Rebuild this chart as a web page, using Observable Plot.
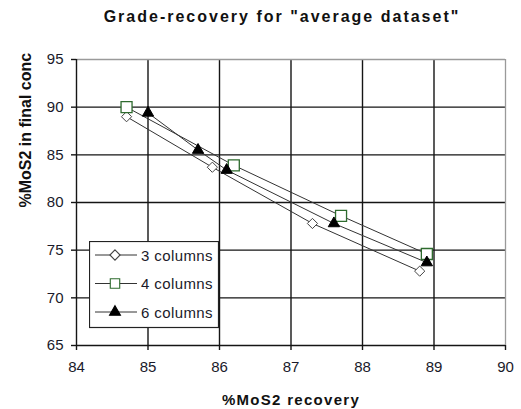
<!DOCTYPE html>
<html><head><meta charset="utf-8">
<script src="https://cdn.jsdelivr.net/npm/d3@7"></script>
<script src="https://cdn.jsdelivr.net/npm/@observablehq/plot@0.6"></script>
<style>
body{margin:0;background:#fff;font-family:Arial,"Liberation Sans",sans-serif;}
#wrap{position:relative;width:521px;height:409px;overflow:hidden;background:#fff;}
#title{position:absolute;left:43px;top:9px;width:478px;text-align:center;font-weight:bold;font-size:16px;line-height:16px;letter-spacing:2px;color:#111;}
#chart{position:absolute;left:0;top:40px;}
#legend{position:absolute;left:89px;top:241px;}
</style></head><body>
<div id="wrap">
  <div id="title">Grade-recovery for "average dataset"</div>
  <div id="chart"></div>
  <div id="legend"></div>
</div>
<script>
// tick values
const xTicks = [84, 85, 86, 87, 88, 89, 90];
const yTicks = [65, 70, 75, 80, 85, 90, 95];
// series names
const seriesNames = ["3 columns", "4 columns", "6 columns"];
// 3 columns
const x3 = [84.7, 85.9, 87.3, 88.8];
const y3 = [89.0, 83.7, 77.8, 72.8];
// 4 columns
const x4 = [84.7, 86.2, 87.7, 88.9];
const y4 = [90.0, 83.9, 78.6, 74.6];
// 6 columns
const x6 = [85.0, 85.7, 86.1, 87.6, 88.9];
const y6 = [89.4, 85.5, 83.4, 77.8, 73.7];

const toRows = (xs, ys) => xs.map((x, i) => ({x, y: ys[i]}));
const d3s = toRows(x3, y3), d4s = toRows(x4, y4), d6s = toRows(x6, y6);

const lineColor = "#333";
const gridColor = "#151515";
const chart = Plot.plot({
  width: 521, height: 369,
  marginLeft: 76, marginRight: 16, marginTop: 19, marginBottom: 64,
  x: {domain: [84, 90]},
  y: {domain: [65, 95]},
  style: {fontFamily: "Arial, 'Liberation Sans', sans-serif", fontSize: "15px", color: "#1a1a2a", background: "white"},
  marks: [
    Plot.ruleX(xTicks.slice(1, -1), {stroke: gridColor, strokeWidth: 1.4}),
    Plot.ruleY(yTicks.slice(1, -1), {stroke: gridColor, strokeWidth: 1.4}),
    Plot.ruleY([yTicks[yTicks.length - 1]], {stroke: "#9a9a9a", strokeWidth: 1.3}),
    Plot.ruleX([xTicks[xTicks.length - 1]], {stroke: "#9a9a9a", strokeWidth: 1.3}),
    Plot.ruleX([xTicks[0]], {stroke: gridColor, strokeWidth: 1.4}),
    Plot.ruleY([yTicks[0]], {stroke: gridColor, strokeWidth: 1.4}),
    Plot.axisX({ticks: xTicks, tickFormat: d => String(d), tickSize: 5, tickPadding: 11, label: null, stroke: gridColor, strokeWidth: 1.4}),
    Plot.axisY({ticks: yTicks, tickFormat: d => String(d), tickSize: 5, tickPadding: 8, label: null, stroke: gridColor, strokeWidth: 1.4}),
    Plot.line(d3s, {x: "x", y: "y", stroke: lineColor, strokeWidth: 1}),
    Plot.line(d4s, {x: "x", y: "y", stroke: lineColor, strokeWidth: 1}),
    Plot.line(d6s, {x: "x", y: "y", stroke: lineColor, strokeWidth: 1}),
    Plot.dot(d3s, {x: "x", y: "y", symbol: "diamond2", r: 4.6, stroke: "#444", fill: "white", strokeWidth: 1}),
    Plot.dot(d4s, {x: "x", y: "y", symbol: "square2", r: 7, stroke: "#2e6b2e", fill: "white", strokeWidth: 1.3}),
    Plot.dot(d6s, {x: "x", y: "y", symbol: "triangle2", r: 5.4, stroke: "black", fill: "black", strokeWidth: 1}),
    Plot.text(["%MoS2 recovery"], {frameAnchor: "bottom", dy: 55, lineAnchor: "middle", fontWeight: "bold", fontSize: 15, fill: "#111"}),
    Plot.text(["%MoS2 in final conc"], {frameAnchor: "left", dx: -51, dy: 5, rotate: -90, fontWeight: "bold", fontSize: 16, fill: "#111"})
  ]
});
document.getElementById("chart").appendChild(chart);
d3.select(chart).selectAll("text").filter(function() { return this.textContent === "%MoS2 recovery"; }).attr("letter-spacing", "1.3px");

// legend
const symbols = [
  {name: seriesNames[0], sym: d3.symbolDiamond2, size: Math.PI * 4.6 * 4.6, stroke: "#444", fill: "white"},
  {name: seriesNames[1], sym: d3.symbolSquare2, size: Math.PI * 6 * 6, stroke: "#2e6b2e", fill: "white"},
  {name: seriesNames[2], sym: d3.symbolTriangle2, size: Math.PI * 5.2 * 5.2, stroke: "black", fill: "black"}
];
const lg = d3.select("#legend").append("svg").attr("width", 131).attr("height", 88)
  .style("font-family", "Arial, 'Liberation Sans', sans-serif");
lg.append("rect").attr("x", 0.5).attr("y", 0.5).attr("width", 129).attr("height", 86)
  .attr("fill", "white").attr("stroke", "#222").attr("stroke-width", 1.2);
symbols.forEach((s, i) => {
  const cy = 14 + i * 28.5;
  lg.append("line").attr("x1", 6).attr("x2", 48).attr("y1", cy).attr("y2", cy).attr("stroke", lineColor).attr("stroke-width", 1);
  lg.append("path").attr("d", d3.symbol(s.sym, s.size)()).attr("transform", `translate(26,${cy})`)
    .attr("fill", s.fill).attr("stroke", s.stroke).attr("stroke-width", 1.1);
  lg.append("text").attr("x", 52).attr("y", cy + 5.5).attr("font-size", 15).attr("letter-spacing", "0.4px").attr("fill", "#1a1a2a").text(s.name);
});
</script>
</body></html>
